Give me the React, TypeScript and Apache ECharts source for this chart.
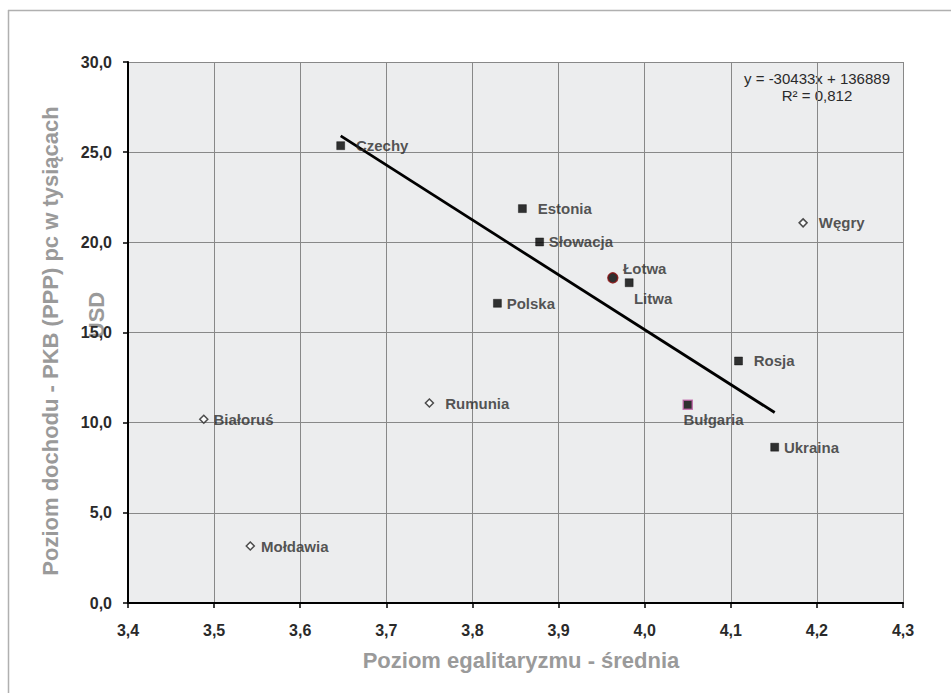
import React, { useEffect, useRef } from "react";
import * as echarts from "echarts";

const squareNames = ["Czechy", "Estonia", "Słowacja", "Polska", "Litwa", "Rosja", "Ukraina"];
const squareX = [3.647, 3.858, 3.878, 3.829, 3.982, 4.109, 4.151];
const squareY = [25.36, 21.87, 20.02, 16.62, 17.76, 13.42, 8.64];

const latviaName = "Łotwa";
const latviaX = 3.963;
const latviaY = 18.03;

const bulgariaName = "Bułgaria";
const bulgariaX = 4.05;
const bulgariaY = 11.0;

const diamondNames = ["Węgry", "Białoruś", "Rumunia", "Mołdawia"];
const diamondX = [4.184, 3.488, 3.75, 3.542];
const diamondY = [21.08, 10.19, 11.09, 3.16];

const trendSlope = -30433;
const trendIntercept = 136889;
const trendR2 = "0,812";

const xTicks = { min: 3.4, max: 4.3, interval: 0.1 };
const yTicks = { min: 0, max: 30, interval: 5 };

const xTitle = "Poziom egalitaryzmu - średnia";
const yTitleLine1 = "Poziom dochodu - PKB (PPP) pc w tysiącach";
const yTitleLine2 = "USD";

const FONT = "'Liberation Sans', Arial, sans-serif";
const LABEL_COLOR = "#2a2a2a";

const labelDist: Record<string, number> = {
  Czechy: 11,
  Estonia: 11,
  "Słowacja": 5,
  Polska: 5,
  Rosja: 11,
  Ukraina: 5,
  "Węgry": 11,
  "Białoruś": 5,
  Rumunia: 11,
  "Mołdawia": 6,
};

export default function App() {
  const ref = useRef<HTMLDivElement>(null);
  useEffect(() => {
    if (!ref.current) return;
    const chart = echarts.init(ref.current, null, { renderer: "svg" });
    const baseLabel = {
      show: true,
      position: "right",
      fontFamily: FONT,
      fontWeight: "bold",
      fontSize: 15,
      color: LABEL_COLOR,
      formatter: (p: any) => p.name,
    };
    const squareData = squareNames.map((n, i) => {
      const item: any = { name: n, value: [squareX[i], squareY[i]] };
      if (n === "Litwa") {
        item.label = { ...baseLabel, distance: 0.5, offset: [0, 16] };
      } else {
        item.label = { ...baseLabel, distance: labelDist[n] ?? 5 };
      }
      return item;
    });
    const diamondData = diamondNames.map((n, i) => ({
      name: n,
      value: [diamondX[i], diamondY[i]],
      label: { ...baseLabel, distance: labelDist[n] ?? 5 },
    }));
    const xs = squareX.concat([latviaX, bulgariaX]);
    const tx0 = Math.min(...xs);
    const tx1 = Math.max(...xs);
    const trend = [tx0, tx1].map((x) => [x, (trendSlope * x + trendIntercept) / 1000]);
    const fmt = (v: number) => v.toFixed(1).replace(".", ",");

    chart.setOption({
      animation: false,
      backgroundColor: "#ffffff",
      grid: {
        left: 128,
        top: 62,
        width: 775,
        height: 541,
        show: true,
        backgroundColor: "#ecedee",
        borderWidth: 0,
      },
      xAxis: {
        type: "value",
        min: xTicks.min,
        max: xTicks.max,
        interval: xTicks.interval,
        axisLine: { show: true, onZero: false, lineStyle: { color: "#000", width: 2 } },
        axisTick: { show: true, length: 5, lineStyle: { color: "#000", width: 1.5 } },
        splitLine: { show: true, lineStyle: { color: "#888888", width: 1 } },
        axisLabel: {
          formatter: fmt,
          margin: 19,
          fontFamily: FONT,
          fontWeight: "bold",
          fontSize: 16,
          color: LABEL_COLOR,
        },
      },
      yAxis: {
        type: "value",
        min: yTicks.min,
        max: yTicks.max,
        interval: yTicks.interval,
        axisLine: { show: true, onZero: false, lineStyle: { color: "#000", width: 2 } },
        axisTick: { show: true, length: 5, lineStyle: { color: "#000", width: 1.5 } },
        splitLine: { show: true, lineStyle: { color: "#888888", width: 1 } },
        axisLabel: {
          formatter: fmt,
          margin: 16,
          fontFamily: FONT,
          fontWeight: "bold",
          fontSize: 16,
          color: LABEL_COLOR,
        },
      },
      graphic: [
        { type: "line", shape: { x1: 8, y1: 10.5, x2: 951, y2: 10.5 }, style: { stroke: "#b0b0b0", lineWidth: 1.5 } },
        { type: "line", shape: { x1: 8.5, y1: 10, x2: 8.5, y2: 693 }, style: { stroke: "#b0b0b0", lineWidth: 1.5 } },
        {
          type: "text",
          x: 521,
          y: 660,
          style: {
            text: xTitle,
            fontFamily: FONT,
            fontWeight: "bold",
            fontSize: 22,
            fill: "#9a9a9a",
            align: "center",
            verticalAlign: "middle",
          },
        },
        {
          type: "text",
          x: 50,
          y: 341,
          rotation: Math.PI / 2,
          style: {
            text: yTitleLine1,
            fontFamily: FONT,
            fontWeight: "bold",
            fontSize: 22,
            fill: "#9a9a9a",
            align: "center",
            verticalAlign: "middle",
          },
        },
        {
          type: "text",
          x: 96,
          y: 315,
          rotation: Math.PI / 2,
          style: {
            text: yTitleLine2,
            fontFamily: FONT,
            fontWeight: "bold",
            fontSize: 22,
            fill: "#9a9a9a",
            align: "center",
            verticalAlign: "middle",
          },
        },
        {
          type: "text",
          x: 817,
          y: 78,
          style: {
            text: `y = ${trendSlope}x + ${trendIntercept}`,
            fontFamily: FONT,
            fontSize: 15,
            fill: "#2a2a2a",
            align: "center",
            verticalAlign: "middle",
          },
        },
        {
          type: "text",
          x: 817,
          y: 95,
          style: {
            text: `R² = ${trendR2}`,
            fontFamily: FONT,
            fontSize: 15,
            fill: "#2a2a2a",
            align: "center",
            verticalAlign: "middle",
          },
        },
      ],
      series: [
        {
          type: "line",
          data: trend,
          symbol: "none",
          lineStyle: { color: "#000", width: 2.8 },
          z: 3,
          silent: true,
        },
        {
          type: "scatter",
          data: squareData,
          symbol: "rect",
          symbolSize: 8,
          itemStyle: { color: "#000", borderColor: "#000", borderWidth: 0.5 },
          z: 4,
        },
        {
          type: "scatter",
          data: [
            {
              name: bulgariaName,
              value: [bulgariaX, bulgariaY],
              label: { ...baseLabel, distance: 0, offset: [-9.5, 15] },
            },
          ],
          symbol: "rect",
          symbolSize: 9,
          itemStyle: { color: "#000", borderColor: "#c060a8", borderWidth: 1.5 },
          z: 4,
        },
        {
          type: "scatter",
          data: [
            {
              name: latviaName,
              value: [latviaX, latviaY],
              label: { ...baseLabel, distance: 4.5, offset: [0, -9] },
            },
          ],
          symbol: "circle",
          symbolSize: 10,
          itemStyle: { color: "#000", borderColor: "#8b1010", borderWidth: 1.5 },
          z: 4,
        },
        {
          type: "scatter",
          data: diamondData,
          symbol: "diamond",
          symbolSize: 8,
          itemStyle: { color: "#ffffff", borderColor: "#222", borderWidth: 1.5 },
          z: 4,
        },
      ],
    });
    return () => chart.dispose();
  }, []);
  return (
    <div
      ref={ref}
      style={{ position: "fixed", left: 0, top: 0, width: 951, height: 693 }}
    />
  );
}
